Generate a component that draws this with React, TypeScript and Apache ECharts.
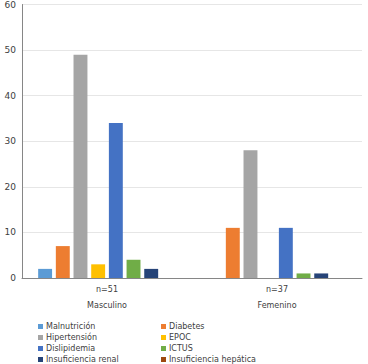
import React, { useEffect, useRef } from "react";
import * as echarts from "echarts";

const categories = ["n=51\nMasculino", "n=37\nFemenino"];
const seriesNames = [
  "Malnutrición",
  "Diabetes",
  "Hipertensión",
  "EPOC",
  "Dislipidemia",
  "ICTUS",
  "Insuficiencia renal",
  "Insuficiencia hepática",
];
const malnutricion = [2, 0];
const diabetes = [7, 11];
const hipertension = [49, 28];
const epoc = [3, 0];
const dislipidemia = [34, 11];
const ictus = [4, 1];
const insufRenal = [2, 1];
const insufHepatica = [0, 0];
const yTicks = [0, 10, 20, 30, 40, 50, 60];

const colors = ["#5B9BD5", "#ED7D31", "#A5A5A5", "#FFC000", "#4472C4", "#70AD47", "#264478", "#9E480E"];
const values = [malnutricion, diabetes, hipertension, epoc, dislipidemia, ictus, insufRenal, insufHepatica];

export default function App() {
  const ref = useRef<HTMLDivElement>(null);
  useEffect(() => {
    const chart = echarts.init(ref.current!, null, { renderer: "svg" });
    const font = "DejaVu Sans";
    const legendBase = {
      orient: "vertical" as const,
      itemWidth: 5,
      itemHeight: 5,
      itemGap: 0,
      icon: "rect",
      padding: 0,
      height: 60,
      selectedMode: false,
      textStyle: { fontFamily: font, fontSize: 8, color: "#404040", lineHeight: 11, padding: [0, 0, 0, -2] },
    };
    chart.setOption({
      animation: false,
      color: colors,
      grid: { left: 22, right: 6, top: 3, bottom: 86, containLabel: false },
      legend: [
        { ...legendBase, left: 38, top: 321, data: [seriesNames[0], seriesNames[2], seriesNames[4], seriesNames[6]] },
        { ...legendBase, left: 161, top: 321, data: [seriesNames[1], seriesNames[3], seriesNames[5], seriesNames[7]] },
      ],
      xAxis: {
        type: "category",
        data: categories,
        axisLine: { lineStyle: { color: "#868686" } },
        axisTick: { length: 10, lineStyle: { color: "#D9D9D9" } },
        axisLabel: { fontFamily: font, fontSize: 8, color: "#404040", lineHeight: 16, margin: 3 },
      },
      yAxis: {
        type: "value",
        min: yTicks[0],
        max: yTicks[yTicks.length - 1],
        interval: 10,
        axisLine: { show: true, lineStyle: { color: "#868686" } },
        axisTick: { show: false },
        splitLine: { lineStyle: { color: "#E6E6E6" } },
        axisLabel: { fontFamily: font, fontSize: 9, color: "#404040", margin: 6 },
      },
      series: seriesNames.map((name, i) => ({
        name,
        type: "bar",
        data: values[i],
        barGap: "27%",
        barCategoryGap: "19%",
        itemStyle: { color: colors[i] },
      })),
    });
    return () => chart.dispose();
  }, []);
  return <div ref={ref} style={{ width: 368, height: 364, position: "absolute", left: 0, top: 0 }} />;
}
